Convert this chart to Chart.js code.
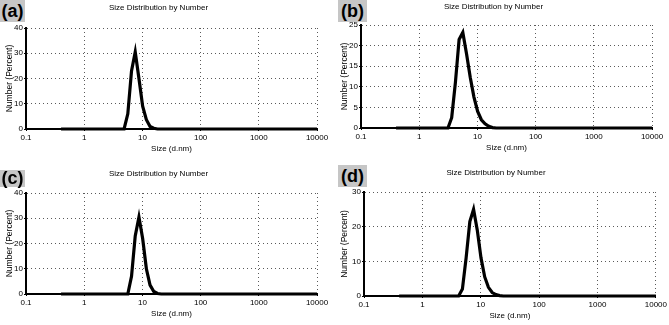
<!DOCTYPE html>
<html>
	<head>
		<meta charset="utf-8">
		<title>Size Distribution by Number</title>
		<script src="https://cdn.jsdelivr.net/npm/chart.js"></script>
		<style>
			body { margin: 0; background: #fff; width: 669px; height: 325px; overflow: hidden; position: relative; font-family: "Liberation Sans", Arial, sans-serif; }
			.panel { position: absolute; }
			.panel canvas { position: absolute; left: 0; top: 0; }
			.tag { position: absolute; background: #c6c6c6; color: #000; font-weight: bold; font-size: 18px; line-height: 22px; text-align: center; }
		</style>
	</head>
	<body>
		<div class="panel" style="left:0;top:0;width:335px;height:160px"><canvas id="a" width="335" height="160"></canvas><div class="tag" style="left:0;top:0;width:25px;height:22px">(a)</div></div>
		<div class="panel" style="left:335px;top:0;width:334px;height:160px"><canvas id="b" width="334" height="160"></canvas><div class="tag" style="left:3px;top:0;width:29px;height:22px">(b)</div></div>
		<div class="panel" style="left:0;top:160px;width:335px;height:165px"><canvas id="c" width="335" height="165"></canvas><div class="tag" style="left:0;top:10px;width:25px;height:17px;line-height:17px">(c)</div></div>
		<div class="panel" style="left:335px;top:160px;width:334px;height:165px"><canvas id="d" width="334" height="165"></canvas><div class="tag" style="left:3px;top:5px;width:29px;height:22px">(d)</div></div>
		<script type="text/javascript">
			// size bins (d.nm) and number %
			const sizeTicks = [0.1, 1, 10, 100, 1000, 10000];

			const sizesA = [0.4, 4.849, 5.615, 6.503, 7.531, 8.721, 10.1, 11.7, 13.54, 15.69, 18.17, 10000];
			const numberA = [0, 0, 6, 23, 30.5, 20, 9, 3.7, 1, 0.3, 0, 0];

			const sizesB = [0.4, 3.122, 3.615, 4.187, 4.849, 5.615, 6.503, 7.531, 8.721, 10.1, 11.7, 13.54, 15.69, 18.17, 21.04, 10000];
			const numberB = [0, 0, 2.5, 11, 21.5, 23.2, 18, 12.3, 7.5, 4, 2, 1, 0.4, 0.1, 0, 0];

			const sizesC = [0.4, 5.615, 6.503, 7.531, 8.721, 10.1, 11.7, 13.54, 15.69, 18.17, 21.04, 10000];
			const numberC = [0, 0, 7, 23, 30.5, 22, 10, 3.5, 1, 0.2, 0, 0];

			const sizesD = [0.4, 4.187, 4.849, 5.615, 6.503, 7.531, 8.721, 10.1, 11.7, 13.54, 15.69, 18.17, 21.04, 24.36, 10000];
			const numberD = [0, 0, 2, 11, 21.5, 25, 19, 11, 5.5, 2.5, 1, 0.4, 0.1, 0, 0];

			const font = "'Liberation Sans', Arial, sans-serif";

			function panel(id, sizes, values, yMax, yStep, box) {
				const c = document.getElementById(id);
				const W = c.width, H = c.height;
				const lh = 9.6;
				new Chart(c, {
					type: 'line',
					data: {
						datasets: [{ data: sizes.map((s, i) => ({ x: s, y: values[i] })), borderColor: '#000', borderWidth: 3.2, pointRadius: 0, tension: 0, fill: false, clip: false, borderJoinStyle: 'miter' }]
					},
					options: {
						responsive: false, animation: false, devicePixelRatio: 1,
						layout: { padding: { left: 0, right: W - box.right, top: 0, bottom: 0 } },
						plugins: {
							legend: { display: false }, tooltip: { enabled: false },
							title: { display: true, text: 'Size Distribution by Number', color: '#000', font: { family: font, size: 8, weight: 'normal', lineHeight: 1.2 },
								padding: { top: box.titleY - lh / 2, bottom: box.top - box.titleY - lh / 2 } }
						},
						scales: {
							x: {
								type: 'logarithmic', min: 0.1, max: 10000,
								afterBuildTicks: s => { s.ticks = sizeTicks.map(v => ({ value: v })) },
								afterFit: s => { s.height = H - box.bottom },
								ticks: { autoSkip: false, maxRotation: 0, padding: 2, color: '#000', font: { family: font, size: 8 }, callback: v => String(v) },
								grid: { color: '#5a5a5a', lineWidth: 1, tickLength: 2, tickColor: '#000' },
								border: { display: true, color: '#000', width: 2, dash: [1, 3] },
								title: { display: true, text: 'Size (d.nm)', color: '#000', font: { family: font, size: 8 }, padding: { top: 0, bottom: box.xTitle } }
							},
							y: {
								min: 0, max: yMax,
								afterFit: s => { s.width = box.left },
								ticks: { stepSize: yStep, padding: 1, color: '#000', font: { family: font, size: 8 } },
								grid: { color: '#5a5a5a', lineWidth: 1, tickLength: 2, tickColor: '#000' },
								border: { display: true, color: '#000', width: 2, dash: [1, 3] },
								title: { display: true, text: 'Number (Percent)', color: '#000', font: { family: font, size: 8.5 }, padding: { top: box.yTitle, bottom: 0 } }
							}
						}
					}
				});
			}

			panel('a', sizesA, numberA, 40, 10, { left: 26, right: 317, top: 28, bottom: 129, titleY: 8, xTitle: 6.5, yTitle: 4.2 });
			panel('b', sizesB, numberB, 25, 5, { left: 26, right: 317, top: 25, bottom: 128, titleY: 6.5, xTitle: 7, yTitle: 4.2 });
			panel('c', sizesC, numberC, 40, 10, { left: 26, right: 317, top: 33, bottom: 134, titleY: 14, xTitle: 6.5, yTitle: 4.2 });
			panel('d', sizesD, numberD, 30, 10, { left: 29, right: 322, top: 32, bottom: 136, titleY: 12.5, xTitle: 4.8, yTitle: 5 });
		</script>
	</body>
</html>
